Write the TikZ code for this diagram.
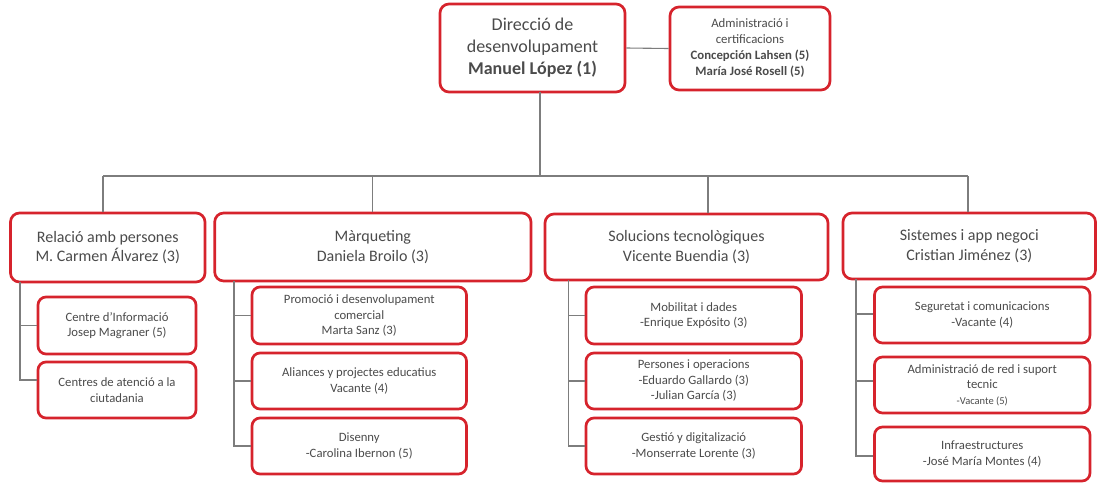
\documentclass[tikz,border=0pt]{standalone}
\usepackage{fontspec}
\setmainfont{Carlito}
\definecolor{boxred}{RGB}{214,35,44}
\definecolor{txtgray}{RGB}{75,75,75}
\definecolor{linegray}{RGB}{125,125,125}
\tikzset{
  orgbox/.style={draw=boxred, line width=2.7pt, rounded corners=9pt, fill=white,
    align=center, text=txtgray, inner sep=1pt},
  topbox/.style={orgbox, font=\fontsize{18}{22}\selectfont},
  admbox/.style={orgbox, font=\fontsize{12.8}{16}\selectfont},
  midbox/.style={orgbox, font=\fontsize{16}{19.5}\selectfont},
  subbox/.style={orgbox, rounded corners=8pt, font=\fontsize{12.7}{15.5}\selectfont},
  tie/.style={draw=linegray, line width=1.1pt}
}
\begin{document}
\begin{tikzpicture}[x=1pt,y=-1pt]
\useasboundingbox (0,0) rectangle (1098,483);
% top level
\node[topbox, minimum width=185pt, minimum height=88pt] (top) at (532.5,48)
  {\raisebox{-3pt}{\parbox{180pt}{\centering Direcció de\\desenvolupament\\\textbf{Manuel López (1)}}}};
\node[admbox, minimum width=160pt, minimum height=83pt] (adm) at (750,48.5)
  {\raisebox{-2pt}{\parbox{155pt}{\centering Administració i\\certificacions\\\textbf{Concepción Lahsen (5)}\\\textbf{María José Rosell (5)}}}};
% second level
\node[midbox, minimum width=194.5pt, minimum height=69pt] (rel) at (107.75,247.5)
  {Relació amb persones\\M. Carmen Álvarez (3)};
\node[midbox, minimum width=316.3pt, minimum height=68pt] (mar) at (372.85,247)
  {Màrqueting\\Daniela Broilo (3)};
\node[midbox, minimum width=283pt, minimum height=66pt] (sol) at (686.5,247)
  {Solucions tecnològiques\\Vicente Buendia (3)};
\node[midbox, minimum width=252.5pt, minimum height=66pt] (sis) at (969.25,246)
  {Sistemes i app negoci\\Cristian Jiménez (3)};
% third level
\node[subbox, minimum width=158pt, minimum height=57pt] (ci) at (117,325.5)
  {Centre d’Informació\\Josep Magraner (5)};
\node[subbox, minimum width=158pt, minimum height=56pt] (ca) at (117,390)
  {Centres de atenció a la\\ciutadania};
\node[subbox, minimum width=214.5pt, minimum height=57pt] (pr) at (359.25,315.5)
  {Promoció i desenvolupament\\comercial\\Marta Sanz (3)};
\node[subbox, minimum width=214.5pt, minimum height=56pt] (al) at (359.25,381)
  {Aliances y projectes educatius\\Vacante (4)};
\node[subbox, minimum width=214.5pt, minimum height=56pt] (di) at (359.25,446)
  {Disenny\\-Carolina Ibernon (5)};
\node[subbox, minimum width=215.5pt, minimum height=57pt] (mo) at (693.75,315.5)
  {Mobilitat i dades\\-Enrique Expósito (3)};
\node[subbox, minimum width=215.5pt, minimum height=56pt] (pe) at (693.75,381)
  {Persones i operacions\\-Eduardo Gallardo (3)\\-Julian García (3)};
\node[subbox, minimum width=215.5pt, minimum height=56pt] (ge) at (693.75,446)
  {Gestió y digitalizació\\-Monserrate Lorente (3)};
\node[subbox, minimum width=215.5pt, minimum height=56pt] (se) at (982.25,315)
  {Seguretat i comunicacions\\-Vacante (4)};
\node[subbox, minimum width=215.5pt, minimum height=56pt] (ar) at (982.25,385)
  {Administració de red i suport\\tecnic\\{\fontsize{10.5}{13}\selectfont -Vacante (5)}};
\node[subbox, minimum width=215.5pt, minimum height=54pt] (inf) at (982.25,454)
  {Infraestructures\\-José María Montes (4)};
% connector anchor points
\coordinate (topv) at (540,92);
\coordinate (busL) at (103,176);
\coordinate (busM) at (540,176);
\coordinate (busR) at (968,176);
\coordinate (relv) at (20,282);
\coordinate (marv) at (234,281);
\coordinate (solv) at (568.5,280);
\coordinate (sisv) at (856,279);
% connectors
\draw[tie] (top.east) -- (adm.west);
\draw[tie] (topv) -- (busM);
\draw[tie] (busL) -- (busR);
\draw[tie] (busL) -- (busL |- rel.north);
\draw[tie] (busM -| mar.north) -- (mar.north);
\draw[tie] (busM -| 708,0) -- (sol.north -| 708,0);
\draw[tie] (busR) -- (busR |- sis.north);
\draw[tie] (relv) |- (ci.west);
\draw[tie] (relv) |- ([yshift=10pt]ca.west);
\draw[tie] (marv) |- (pr.west);
\draw[tie] (marv) |- (al.west);
\draw[tie] (marv) |- (di.west);
\draw[tie] (solv) |- (mo.west);
\draw[tie] (solv) |- (pe.west);
\draw[tie] (solv) |- (ge.west);
\draw[tie] (sisv) |- ([yshift=1pt]se.west);
\draw[tie] (sisv) |- ([yshift=4pt]ar.west);
\draw[tie] (sisv) |- ([yshift=-2pt]inf.west);
\end{tikzpicture}
\end{document}
